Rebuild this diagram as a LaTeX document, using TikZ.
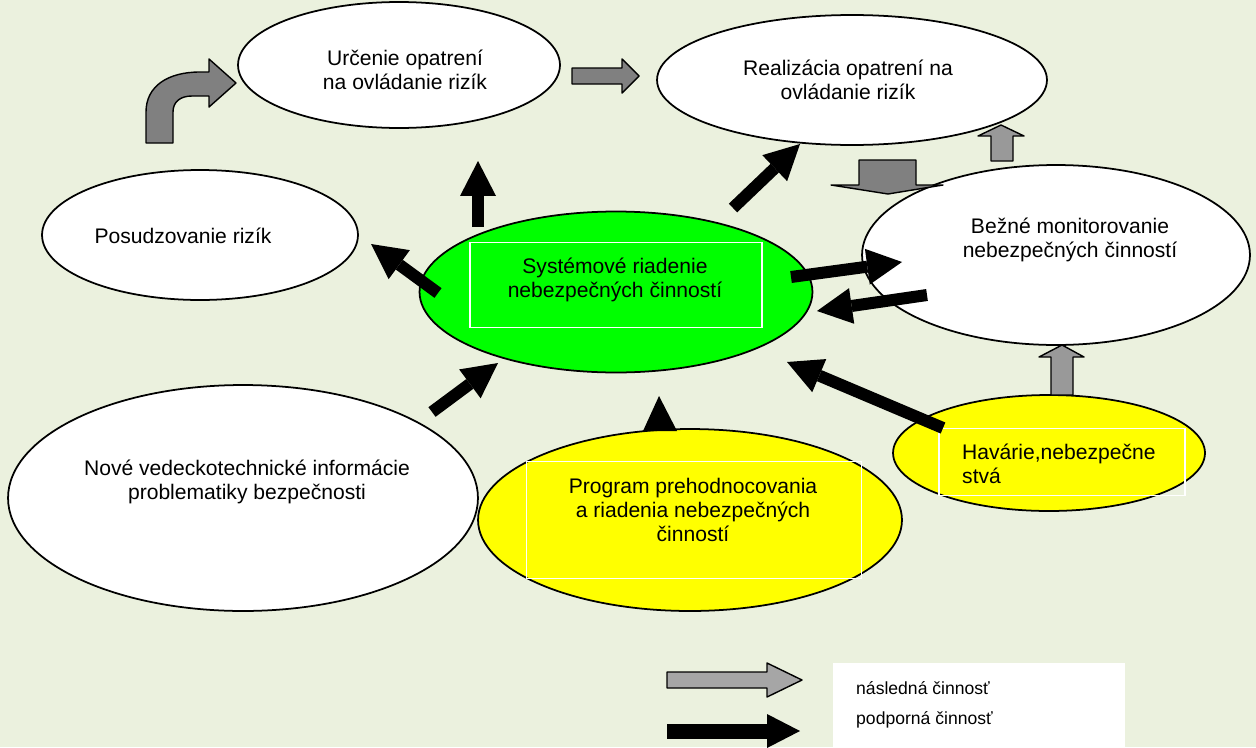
\documentclass[tikz,border=0pt]{standalone}
\usepackage{fontspec}
\setmainfont{Liberation Sans}
\usetikzlibrary{arrows.meta,shapes.geometric}
\definecolor{bgolive}{HTML}{EBF1DE}
\definecolor{sysgreen}{HTML}{00FF00}
\definecolor{progyellow}{HTML}{FFFF00}
\definecolor{stepgray}{HTML}{808080}
\definecolor{stepgraylight}{HTML}{999999}
\definecolor{legendgray}{HTML}{A6A6A6}

\begin{document}
\begin{tikzpicture}[x=0.02cm, y=-0.02cm,
        oval/.style={ellipse, draw=black, line width=1pt, fill=white, inner sep=0pt},
        inbox/.style={draw=white, line width=1pt, inner sep=0pt},
        txt/.style={font=\fontsize{12}{13.5}\selectfont, align=center},
        nextarrow/.style={draw=black, line width=0.8pt, fill=stepgray, line join=round},
        supportarrow/.style={line width=0.24cm,
            -{Triangle[width=0.72cm,length=0.7cm,line width=0pt]}}]
        \useasboundingbox (0,0) rectangle (1256,747);
        \fill[bgolive] (0,0) rectangle (1256,747);

        \node[oval, minimum width=6.44cm, minimum height=2.52cm] (urc) at (399,65) {};
        \node[oval, minimum width=7.8cm, minimum height=2.6cm] (real) at (852,80) {};
        \node[oval, minimum width=6.32cm, minimum height=2.6cm] (posud) at (200,235) {};
        \node[oval, minimum width=7.76cm, minimum height=3.6cm] (monit) at (1056,255) {};
        \node[oval, minimum width=9.4cm, minimum height=4.52cm] (nove) at (243,498) {};
        \node[oval, fill=sysgreen, minimum width=7.86cm, minimum height=3.22cm] (sys) at (616,292) {};
        \node[oval, fill=progyellow, minimum width=8.48cm, minimum height=3.64cm] (prog) at (690,520) {};
        \node[oval, fill=progyellow, minimum width=6.24cm, minimum height=2.32cm] (hav) at (1049,453) {};

        \node[inbox, minimum width=5.84cm, minimum height=1.7cm] (sysbox) at (616,285) {};
        \node[inbox, minimum width=6.7cm, minimum height=2.34cm] (progbox) at (694,520) {};
        \node[inbox, minimum width=4.92cm, minimum height=1.34cm] (havbox) at (1062,462) {};

        \node[txt] (urctext) at (405,70) {Určenie opatrení\\na ovládanie rizík};
        \node[txt] (realtext) at (848,80) {Realizácia opatrení na\\ovládanie rizík};
        \node[txt] (posudtext) at (183,236) {Posudzovanie rizík};
        \node[txt] (monittext) at (1070,240) {Bežné monitorovanie\\nebezpečných činností};
        \node[txt] (systext) at (615,280) {Systémové riadenie\\nebezpečných činností};
        \node[txt] (novetext) at (247,482) {Nové vedeckotechnické informácie\\problematiky bezpečnosti};
        \node[txt] (progtext) at (693,510) {Program prehodnocovania\\a riadenia nebezpečných\\činností};
        \node[txt, align=left, anchor=west] (havtext) at (956,464) {Havárie,nebezpečne\\stvá};

        \draw[nextarrow] (146,143) -- (146,112) .. controls (146,86) and (168,72) .. (200,72)
            -- (209,72) -- (209,59) -- (236,83) -- (209,107) -- (209,96) -- (192,96)
            .. controls (180,96) and (173,102) .. (173,112) -- (173,143) -- cycle;
        \draw[nextarrow] (572,68) -- (622,68) -- (622,59) -- (639,76) -- (622,93) -- (622,84) -- (572,84) -- cycle;
        \draw[nextarrow] (859,160) -- (916,160) -- (916,185) -- (943,185) -- (888,194) -- (831,185) -- (859,185) -- cycle;
        \draw[nextarrow, fill=stepgraylight] (991,161) -- (991,136) -- (978,136) -- (1001,125) -- (1024,136) -- (1013,136) -- (1013,161) -- cycle;
        \draw[nextarrow, fill=stepgraylight] (1051,395) -- (1051,357) -- (1039,357) -- (1062,345) -- (1084,357) -- (1073,357) -- (1073,395) -- cycle;

        \coordinate (upS) at (478,227);
        \coordinate (upE) at (478,161);
        \coordinate (posS) at (438,293);
        \coordinate (posE) at (371,244);
        \coordinate (realS) at (733,208);
        \coordinate (realE) at (800,144);
        \coordinate (monS) at (791,277);
        \coordinate (monE) at (902,262);
        \coordinate (backS) at (927,295);
        \coordinate (backE) at (817,311);
        \coordinate (havS) at (943,428);
        \coordinate (havE) at (787,362);
        \coordinate (noveS) at (432,412);
        \coordinate (noveE) at (498,363);
        \draw[supportarrow] (upS) -- (upE);
        \draw[supportarrow] (posS) -- (posE);
        \draw[supportarrow] (realS) -- (realE);
        \draw[supportarrow] (monS) -- (monE);
        \draw[supportarrow] (backS) -- (backE);
        \draw[supportarrow] (havS) -- (havE);
        \draw[supportarrow] (noveS) -- (noveE);
        \fill[black] (643,431) -- (677,431) -- (659,396) -- cycle;

        \fill[white] (833,663) rectangle (1125,747);
        \draw[nextarrow, fill=legendgray] (667,672) -- (767,672) -- (767,663) -- (802,680) -- (767,697) -- (767,688) -- (667,688) -- cycle;
        \coordinate (keyS) at (667,731);
        \coordinate (keyE) at (800,731);
        \draw[line width=0.3cm, -{Triangle[width=0.68cm,length=0.66cm,line width=0pt]}] (keyS) -- (keyE);
        \node[font=\fontsize{10}{12}\selectfont, anchor=west] (keynext) at (850,688) {následná činnosť};
        \node[font=\fontsize{10}{12}\selectfont, anchor=west] (keysupp) at (850,720) {podporná činnosť};
    \end{tikzpicture}
\end{document}
